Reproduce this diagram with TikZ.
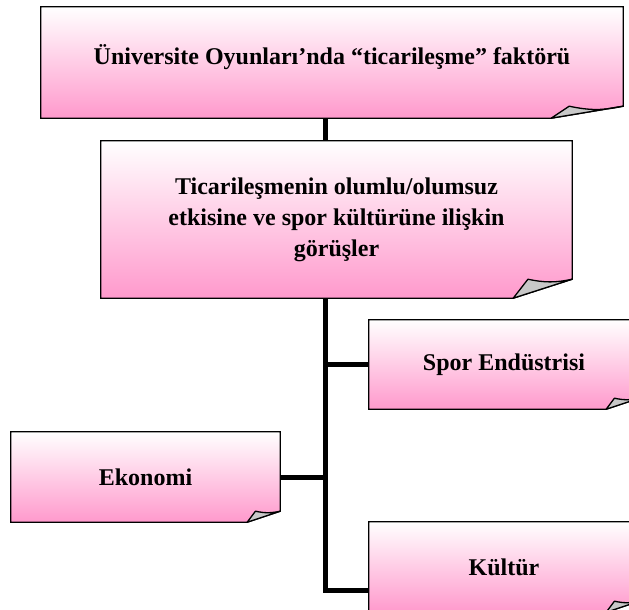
\documentclass[tikz,border=0pt]{standalone}
\usepackage{fontspec}
\setmainfont{Liberation Serif}
\usetikzlibrary{backgrounds}
\definecolor{cardpink}{RGB}{255,153,204}
\definecolor{foldgray}{RGB}{200,200,200}
\tikzset{
  card/.style={font=\bfseries\fontsize{24}{31}\selectfont, align=center, inner sep=0pt},
  cardline/.style={draw=black, line width=1.3pt, top color=white, bottom color=cardpink},
  bar/.style={line width=5pt}
}
\begin{document}
\begin{tikzpicture}[x=1pt, y=-1pt]
    \useasboundingbox (0,0) rectangle (629,610);
    \clip (0,0) rectangle (629,610);
    \node[card, minimum width=582pt, minimum height=111pt, text depth=16pt] (title) at (332,62.5) {Üniversite Oyunları’nda “ticarileşme” faktörü};
    \node[card, minimum width=471pt, minimum height=157pt] (views) at (336.5,219.5) {Ticarileşmenin olumlu/olumsuz\\etkisine ve spor kültürüne ilişkin\\görüşler};
    \node[card, minimum width=270pt, minimum height=89pt] (spor) at (504,364.5) {Spor Endüstrisi};
    \node[card, minimum width=269pt, minimum height=90pt] (eko) at (145.5,477) {Ekonomi};
    \node[card, minimum width=270pt, minimum height=90pt] (kultur) at (504,567) {Kültür};
    \coordinate (trunk) at (325,590);
    \begin{scope}[on background layer]
    \clip (0,0) rectangle (629,610);
    \foreach \n/\fw/\fh in {title/72/12, views/59/19, spor/33/11, eko/33/11, kultur/33/11} {
        \shade[cardline] (\n.north west) -- (\n.north east) -- ([yshift=\fh]\n.south east) -- ([xshift=-\fw]\n.south east) -- (\n.south west) -- cycle;
        \filldraw[fill=foldgray, line width=1.3pt, line join=round] ([xshift=-\fw]\n.south east) -- ([xshift={-0.75*\fw}, yshift=\fh]\n.south east) to[bend right=12] ([yshift=\fh]\n.south east) -- cycle;
    }
    \end{scope}
    \draw[bar] (title.south -| trunk) -- (views.north -| trunk);
    \draw[bar] (views.south -| trunk) -- (trunk) -- (trunk -| kultur.west);
    \draw[bar] (trunk |- spor.west) -- (spor.west);
    \draw[bar] (eko.east) -- (eko.east -| trunk);
\end{tikzpicture}
\end{document}
